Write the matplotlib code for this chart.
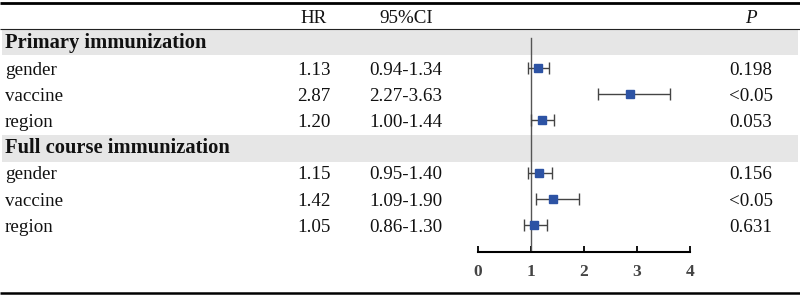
import matplotlib
matplotlib.use("Agg")
import matplotlib.pyplot as plt
from matplotlib.patches import Rectangle
import numpy as np

plt.rcParams['font.family'] = ['Liberation Serif', 'DejaVu Serif']

# ---- data ----
groups = ["Primary immunization", "Full course immunization"]
variables = ["gender", "vaccine", "region"]
hr = [[1.13, 2.87, 1.20], [1.15, 1.42, 1.05]]
ci_lo = [[0.94, 2.27, 1.00], [0.95, 1.09, 0.86]]
ci_hi = [[1.34, 3.63, 1.44], [1.40, 1.90, 1.30]]
p_vals = [["0.198", "<0.05", "0.053"], ["0.156", "<0.05", "0.631"]]
xticks = [0, 1, 2, 3, 4]

# ---- layout ----
W, H = 800, 297
fig = plt.figure(figsize=(W / 100, H / 100), dpi=100)
ax = fig.add_axes([0, 0, 1, 1])
ax.set_xlim(0, W)
ax.set_ylim(H, 0)
ax.axis('off')

def row_y(i):
    return 16 + 26.1 * i

x_label, x_hr, x_ci, x_p = 5, 314, 406, 751
fs, fsb = 13.7, 14.8
txt_dy = 2.3
tc = '#111111'

band_color = '#e6e6e6'
# header
ax.text(x_hr, row_y(0) + txt_dy, "HR", ha='center', va='center', fontsize=fs, color=tc)
ax.text(x_ci, row_y(0) + txt_dy, "95%CI", ha='center', va='center', fontsize=fs, color=tc)
ax.text(x_p, row_y(0) + txt_dy, "P", ha='center', va='center', fontsize=fs, style='italic',
        color=tc)

# rules
ax.plot([0, W], [2.5, 2.5], color='black', lw=2.0, solid_capstyle='butt')
ax.plot([0, W], [28.7, 28.7], color='#222222', lw=0.8, solid_capstyle='butt')
ax.plot([0, W], [292.8, 292.8], color='black', lw=1.8, solid_capstyle='butt')

band_tops = [30, 135]
band_bots = [55, 162]

ax2 = fig.add_axes([478 / W, (H - 252) / H, 212 / W, 252 / H])
ax2.set_facecolor('none')
ax2.set_xlim(0, 4)
ax2.set_ylim(252, 0)

for g, name in enumerate(groups):
    base = 1 + 4 * g
    ax.add_patch(Rectangle((2, band_tops[g]), W - 4, band_bots[g] - band_tops[g],
                           facecolor=band_color, edgecolor='none', zorder=0))
    ax.text(x_label, row_y(base) + 1.2, name, ha='left', va='center', fontsize=fsb,
            fontweight='bold', color=tc)
    ys = []
    for k, var in enumerate(variables):
        y = row_y(base + 1 + k)
        ys.append(y)
        ax.text(x_label, y + txt_dy, var, ha='left', va='center', fontsize=fs, color=tc)
        ax.text(x_hr, y + txt_dy, f"{hr[g][k]:.2f}", ha='center', va='center',
                fontsize=fs, color=tc)
        ax.text(x_ci, y + txt_dy, f"{ci_lo[g][k]:.2f}-{ci_hi[g][k]:.2f}", ha='center',
                va='center', fontsize=fs, color=tc)
        ax.text(x_p, y + txt_dy, p_vals[g][k], ha='center', va='center', fontsize=fs,
                color=tc)
    h = np.array(hr[g]); lo = np.array(ci_lo[g]); hi = np.array(ci_hi[g])
    ax2.errorbar(h, ys, xerr=[h - lo, hi - h], fmt='s', ms=6.2, mfc='#2d53a4',
                 mec='#2d53a4', ecolor='#444444', elinewidth=1.0, capsize=4,
                 capthick=1.0, zorder=3)

ax2.axvline(1, ymin=0, ymax=(252 - 38) / 252, color='#555555', lw=1.0, zorder=2)

for s in ['top', 'left', 'right']:
    ax2.spines[s].set_visible(False)
ax2.spines['bottom'].set_linewidth(1.5)
ax2.spines['bottom'].set_color('black')
ax2.set_yticks([])
ax2.set_xticks(xticks)
ax2.set_xticklabels([str(t) for t in xticks], fontweight='bold', fontsize=12.5,
                    color='#444444')
ax2.tick_params(axis='x', direction='in', length=4, width=1.3, pad=8.5, color='black')

fig.savefig("out.png", dpi=100)
